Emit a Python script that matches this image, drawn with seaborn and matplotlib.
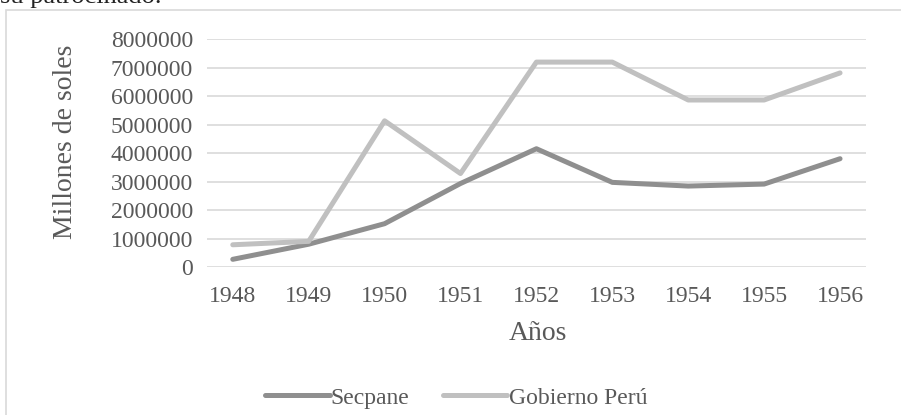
import matplotlib
matplotlib.use("Agg")
import matplotlib.pyplot as plt
from matplotlib.patches import Rectangle
import pandas as pd
import seaborn as sns

# --------------------------------------------------------------------------
# Data
# --------------------------------------------------------------------------
years = [1948, 1949, 1950, 1951, 1952, 1953, 1954, 1955, 1956]
secpane = [270000, 800000, 1520000, 2930000, 4150000, 2970000, 2840000, 2910000, 3800000]
gobierno = [780000, 900000, 5130000, 3280000, 7190000, 7190000, 5860000, 5860000, 6810000]
series_names = ["Secpane", "Gobierno Perú"]
y_ticks = [0, 1000000, 2000000, 3000000, 4000000, 5000000, 6000000, 7000000, 8000000]

df = pd.DataFrame({
    "Año": years * 2,
    "valor": secpane + gobierno,
    "serie": [series_names[0]] * len(years) + [series_names[1]] * len(years),
})

sns.set_theme(style="white")
plt.rcParams["font.family"] = ["Liberation Serif", "DejaVu Serif"]

TEXT = "#595959"
GRID = "#d9d9d9"
palette = {series_names[0]: "#8f8f8f", series_names[1]: "#c0c0c0"}

fig = plt.figure(figsize=(9.01, 4.15), dpi=100)
ax = fig.add_axes([0.2297, 0.3566, 0.7313, 0.5494])

sns.lineplot(data=df, x="Año", y="valor", hue="serie", palette=palette,
             linewidth=3.6, ax=ax, legend=False, solid_capstyle="round")

ax.set_xlim(1947.66, 1956.34)
ax.set_ylim(0, 8000000)
ax.set_xticks(years)
ax.set_xticklabels([str(y) for y in years])
ax.set_yticks(y_ticks)
ax.set_yticklabels([str(v) for v in y_ticks])
ax.yaxis.grid(True, color=GRID, linewidth=1.2)
ax.set_axisbelow(True)
for s in ax.spines.values():
    s.set_visible(False)
ax.tick_params(axis="both", length=0, labelsize=17, labelcolor=TEXT)
ax.tick_params(axis="x", pad=14)
ax.tick_params(axis="y", pad=10)

ax.set_xlabel("Años", fontsize=20, color=TEXT)
ax.set_ylabel("Millones de soles", fontsize=20, color=TEXT)
ax.xaxis.set_label_coords(0.502, -0.235)
ax.yaxis.set_label_coords(-0.196, 0.548)

# legend at the bottom of the chart box
handles = [plt.Line2D([], [], color=palette[n], linewidth=3.6, solid_capstyle="round")
           for n in series_names]
fig.legend(handles, series_names, loc="center", bbox_to_anchor=(0.506, 0.041),
           ncol=2, frameon=False, handlelength=2.75, handletextpad=0.05,
           columnspacing=1.4, prop={"size": 17}, labelcolor=TEXT)

# chart border and clipped caption above it
fig.patches.append(Rectangle((6 / 901, -0.1), 1.2, 1.1 - 10 / 415,
                             transform=fig.transFigure, fill=False,
                             edgecolor="#d9d9d9", linewidth=1.2))
fig.text(0.0, 1.008, "su patrocinado.", fontsize=19, color="#222222",
         ha="left", va="center")

fig.savefig("out.png", dpi=100)
plt.close(fig)
